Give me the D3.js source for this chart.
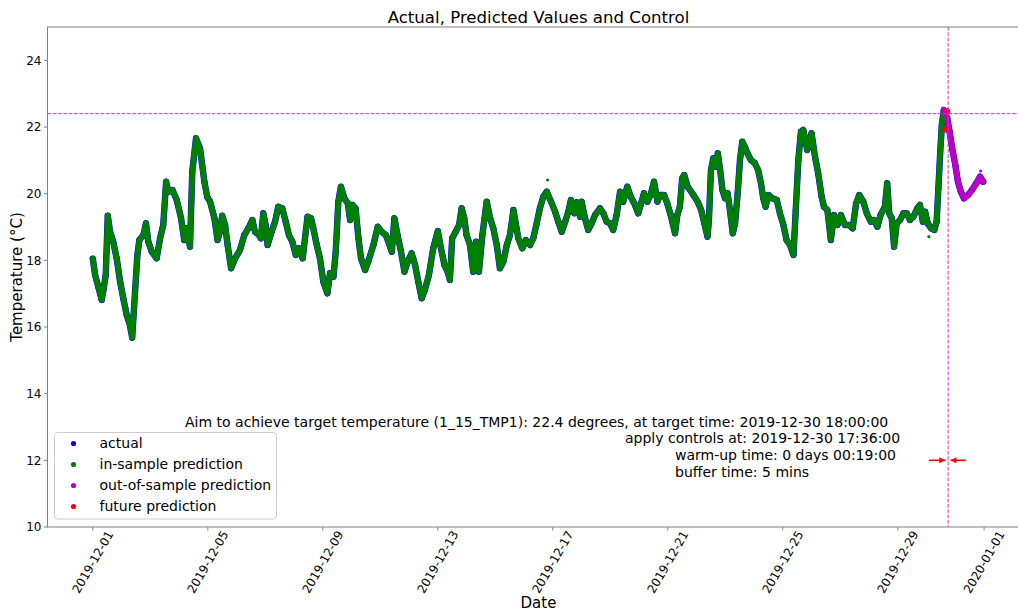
<!DOCTYPE html>
<html><head><meta charset="utf-8">
<script src="https://cdn.jsdelivr.net/npm/d3@7"></script>
<style>body{margin:0;background:#fff}text{font-family:"DejaVu Sans",sans-serif;fill:#000}</style>
</head><body><svg id="c" width="1018" height="611"></svg>
<script>
// ---- data (time in days since 2019-12-01 00:00) ----
const startDate = "2019-12-01T00:00:00Z";
const inSampleT = [0.00,0.08,0.19,0.31,0.37,0.45,0.52,0.60,0.71,0.83,0.95,1.06,1.18,1.29,1.37,1.47,1.55,1.62,1.76,1.85,1.93,2.05,2.22,2.34,2.45,2.55,2.63,2.77,2.92,3.07,3.18,3.27,3.38,3.46,3.59,3.73,3.79,3.88,3.98,4.08,4.23,4.34,4.42,4.50,4.60,4.69,4.81,4.95,5.12,5.27,5.41,5.55,5.64,5.78,5.85,5.93,6.01,6.08,6.22,6.34,6.45,6.59,6.71,6.82,6.94,7.06,7.17,7.30,7.38,7.47,7.59,7.67,7.79,7.90,8.02,8.16,8.25,8.37,8.45,8.54,8.63,8.75,8.87,8.95,9.03,9.14,9.24,9.33,9.47,9.58,9.76,9.91,10.05,10.19,10.34,10.40,10.49,10.61,10.72,10.84,10.95,11.09,11.21,11.32,11.44,11.55,11.69,11.84,12.00,12.11,12.23,12.34,12.42,12.50,12.62,12.74,12.83,12.92,13.00,13.12,13.23,13.33,13.43,13.55,13.70,13.82,13.93,14.05,14.16,14.28,14.40,14.51,14.63,14.72,14.80,14.94,15.06,15.21,15.32,15.44,15.55,15.67,15.79,15.94,16.08,16.19,16.31,16.43,16.54,16.63,16.75,16.83,16.95,17.00,17.12,17.23,17.35,17.47,17.64,17.76,17.87,17.99,18.10,18.22,18.34,18.45,18.59,18.71,18.86,18.97,19.07,19.17,19.29,19.40,19.52,19.64,19.73,19.87,19.98,20.10,20.25,20.33,20.42,20.50,20.57,20.69,20.89,21.04,21.16,21.27,21.38,21.43,21.50,21.58,21.67,21.74,21.82,21.90,21.99,22.08,22.16,22.26,22.34,22.43,22.51,22.59,22.68,22.77,22.89,23.03,23.14,23.24,23.32,23.40,23.50,23.63,23.79,23.90,24.02,24.13,24.25,24.37,24.45,24.54,24.63,24.71,24.85,25.00,25.12,25.23,25.35,25.43,25.55,25.67,25.78,25.90,26.02,26.16,26.31,26.43,26.55,26.66,26.80,26.92,27.06,27.17,27.29,27.40,27.55,27.63,27.70,27.79,27.87,27.96,28.08,28.19,28.31,28.42,28.54,28.68,28.77,28.87,28.95,29.04,29.16,29.27,29.35,29.41,29.47,29.53,29.60];
const inSampleV = [18.05,17.56,17.21,16.81,17.11,17.56,19.34,18.86,18.56,18.06,17.36,16.86,16.36,16.06,15.68,17.06,18.16,18.61,18.76,19.11,18.56,18.26,18.06,18.66,19.06,20.36,20.06,20.11,19.81,19.26,18.61,18.96,18.41,20.66,21.66,21.36,20.96,20.36,19.90,19.76,19.26,18.61,18.86,19.34,19.06,18.46,17.76,18.06,18.31,18.76,18.96,19.21,18.86,18.76,18.66,19.41,19.06,18.46,18.86,19.16,19.61,19.56,19.16,18.76,18.56,18.16,18.36,18.06,18.66,19.31,19.26,18.96,18.46,18.06,17.36,17.01,17.61,17.51,18.26,19.76,20.21,19.86,19.71,19.21,19.66,19.56,18.66,18.06,17.71,17.96,18.46,19.01,18.86,18.76,18.41,18.26,19.26,18.71,18.26,17.66,17.96,18.21,17.86,17.36,16.86,17.11,17.56,18.36,18.88,18.36,17.86,17.66,17.41,18.66,18.86,19.06,19.56,19.26,18.76,18.46,17.66,18.56,17.66,18.76,19.76,19.26,18.96,18.46,17.76,17.96,18.46,18.76,19.51,19.06,18.66,18.36,18.61,18.46,18.66,19.11,19.56,19.91,20.06,19.76,19.46,19.16,18.86,19.16,19.46,19.81,19.41,19.74,19.31,19.76,19.26,18.91,19.11,19.36,19.56,19.41,19.16,19.11,18.91,19.36,20.06,19.76,20.21,19.91,19.66,19.41,19.71,20.01,19.76,19.96,20.36,19.76,19.96,19.96,19.71,19.36,18.81,19.36,19.61,20.46,20.56,20.21,19.96,19.76,19.51,19.11,18.71,19.21,20.71,21.06,20.81,21.21,20.71,20.11,19.86,20.01,19.51,18.81,19.11,20.01,21.01,21.56,21.41,21.21,21.01,20.91,20.71,20.31,19.86,19.61,19.96,19.86,19.81,19.41,19.06,18.61,18.46,18.16,19.51,21.01,21.86,21.91,21.31,21.81,21.11,20.61,19.91,19.61,19.51,18.61,19.36,19.06,19.36,19.06,19.06,18.96,19.71,19.96,19.76,19.41,19.16,19.21,19.01,19.36,19.61,20.31,19.41,19.26,18.41,19.11,19.21,19.41,19.41,19.21,19.31,19.56,19.66,19.16,19.46,19.11,18.96,18.91,19.16,20.16,21.16,22.06,22.51];
const outSampleT = [29.60,29.72,29.80,29.89,30.00,30.09,30.19,30.30,30.44,30.58,30.73,30.86,30.97];
const outSampleV = [22.51,22.26,21.86,21.36,20.86,20.36,20.06,19.86,19.96,20.11,20.31,20.51,20.36];
const futureT = [29.63,29.65,29.73,29.75];
const futureV = [21.90,21.95,22.50,22.45];
const strayT = [15.82,29.08,30.88];      // isolated stray prediction dots
const strayV = [20.41,18.71,20.68];
const targetTemp = 22.4;
const targetTime = 29.75;                // 2019-12-30 18:00
const arrowLeft = [29.085, 29.65];       // from, to (days)
const arrowRight = [30.37, 29.83];
const arrowLevel = 12;
const yTicks = [10,12,14,16,18,20,22,24];
const xTickLabels = ["2019-12-01","2019-12-05","2019-12-09","2019-12-13","2019-12-17","2019-12-21","2019-12-25","2019-12-29","2020-01-01"];
const legendLabels = ["actual","in-sample prediction","out-of-sample prediction","future prediction"];
const annotLines = ["Aim to achieve target temperature (1_15_TMP1): 22.4 degrees, at target time: 2019-12-30 18:00:00",
  "apply controls at: 2019-12-30 17:36:00","warm-up time: 0 days 00:19:00","buffer time: 5 mins"];

// ---- drawing ----
const DAY = 86400000, t0 = new Date(startDate).getTime();
const toDate = d => new Date(t0 + d*DAY);
const L = 47.5, R = 1029.5, T = 27, B = 527;
const x = d3.scaleUtc().domain([toDate(-1.5757), toDate(32.58)]).range([L, R]);
const y = d3.scaleLinear().domain([10, 25]).range([B, T]);
const svg = d3.select("#c");
const C = {b:"#0000ff", g:"#008000", m:"#bf00bf", r:"#ff0000"};

const pts = (ts, vs) => ts.map((t,i) => [toDate(t), vs[i]]);
const line = d3.line().x(d => x(d[0])).y(d => y(d[1])).curve(d3.curveLinear);
const ins = pts(inSampleT, inSampleV), outs = pts(outSampleT, outSampleV);
const actual = ins.concat(outs.slice(1));

svg.append("path").attr("d", line(actual)).attr("fill","none").attr("stroke",C.b).attr("stroke-width",6.4).attr("stroke-linejoin","round").attr("stroke-linecap","round");
svg.append("g").selectAll("circle").data(actual).join("circle").attr("cx",d=>x(d[0])).attr("cy",d=>y(d[1])).attr("r",3).attr("fill",C.b);
svg.append("path").attr("d", line(ins)).attr("fill","none").attr("stroke",C.g).attr("stroke-width",5.6).attr("stroke-linejoin","round").attr("stroke-linecap","round");
svg.append("path").attr("d", line(outs)).attr("fill","none").attr("stroke",C.m).attr("stroke-width",5.6).attr("stroke-linejoin","round").attr("stroke-linecap","round");
const strays = pts(strayT, strayV);
svg.append("g").selectAll("circle").data(strays).join("circle").attr("cx",d=>x(d[0])).attr("cy",d=>y(d[1])).attr("r",1.6).attr("fill",(d,i)=> i==2?C.m:C.g);
svg.append("g").selectAll("circle").data(pts(futureT, futureV)).join("circle").attr("cx",d=>x(d[0])).attr("cy",d=>y(d[1])).attr("r",2.4).attr("fill",C.r);

// reference lines
svg.append("line").attr("x1",L).attr("x2",R).attr("y1",y(targetTemp)).attr("y2",y(targetTemp)).attr("stroke","#d030d0").attr("stroke-width",1).attr("stroke-dasharray","3.7,1.6");
svg.append("line").attr("x1",x(toDate(targetTime))).attr("x2",x(toDate(targetTime))).attr("y1",T).attr("y2",B).attr("stroke","#d030d0").attr("stroke-width",1).attr("stroke-dasharray","3.7,1.6");

// arrows
const defs = svg.append("defs");
defs.append("marker").attr("id","ah").attr("viewBox","0 0 10 10").attr("refX",10).attr("refY",5).attr("markerWidth",7).attr("markerHeight",6).attr("markerUnits","userSpaceOnUse").attr("orient","auto")
  .append("path").attr("d","M0,0L10,5L0,10Z").attr("fill",C.r);
[arrowLeft, arrowRight].forEach(a => {
  svg.append("line").attr("x1",x(toDate(a[0]))).attr("x2",x(toDate(a[1]))).attr("y1",y(arrowLevel)).attr("y2",y(arrowLevel))
    .attr("stroke",C.r).attr("stroke-width",1.6).attr("marker-end","url(#ah)");
});

// frame & axes
svg.append("rect").attr("x",L).attr("y",T).attr("width",R-L).attr("height",B-T).attr("fill","none").attr("stroke","#808080").attr("stroke-width",1);
const yg = svg.append("g");
yTicks.forEach(v => {
  yg.append("line").attr("x1",L-3.5).attr("x2",L).attr("y1",y(v)).attr("y2",y(v)).attr("stroke","#808080");
  yg.append("text").attr("x",L-6).attr("y",y(v)).attr("dy","0.35em").attr("text-anchor","end").attr("font-size",12).text(v);
});
const xg = svg.append("g");
xTickLabels.forEach(s => {
  const px = x(new Date(s+"T00:00:00Z"));
  xg.append("line").attr("x1",px).attr("x2",px).attr("y1",B).attr("y2",B+3.5).attr("stroke","#808080");
  xg.append("text").attr("transform",`translate(${px},${B+35}) rotate(-60)`).attr("text-anchor","middle").attr("dy","0.35em").attr("font-size",12).text(s);
});

svg.append("text").attr("x",(L+R)/2).attr("y",23).attr("text-anchor","middle").attr("font-size",16.6).text("Actual, Predicted Values and Control");
svg.append("text").attr("x",(L+R)/2).attr("y",608).attr("text-anchor","middle").attr("font-size",15).text("Date");
svg.append("text").attr("transform",`translate(22,${(T+B)/2}) rotate(-90)`).attr("text-anchor","middle").attr("font-size",15).text("Temperature (°C)");

// annotation text
const annX = [185, 625, 675, 675], annY = [427, 443, 460, 477];
annotLines.forEach((s,i) => svg.append("text").attr("x",annX[i]).attr("y",annY[i]).attr("font-size",14).text(s));

// legend
const lg = svg.append("g");
lg.append("rect").attr("x",54.5).attr("y",432.5).attr("width",222).attr("height",86.5).attr("rx",3).attr("fill","#fff").attr("fill-opacity",0.8).attr("stroke","#cccccc");
[C.b,C.g,C.m,C.r].forEach((c,i) => {
  const yy = 443.5 + i*21;
  lg.append("circle").attr("cx",73.5).attr("cy",yy).attr("r",2.6).attr("fill",c);
  lg.append("text").attr("x",99.5).attr("y",yy).attr("dy","0.35em").attr("font-size",14).text(legendLabels[i]);
});
</script></body></html>
